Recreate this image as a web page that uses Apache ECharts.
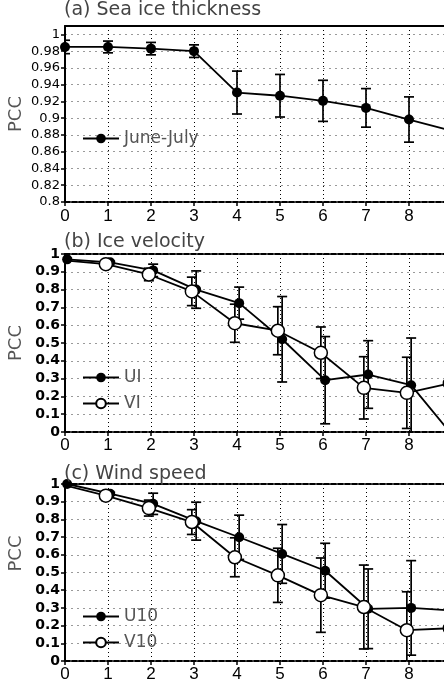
<!DOCTYPE html>
<html>
<head>
<meta charset="utf-8">
<script src="https://cdn.jsdelivr.net/npm/echarts@6/dist/echarts.min.js"></script>
<style>
html,body{margin:0;padding:0;overflow:hidden;background:#fff;}
#chart{width:480px;height:680px;}
</style>
</head>
<body>
<div id="chart"></div>
<script>
// lead (x axis)
var leads = [0, 1, 2, 3, 4, 5, 6, 7, 8, 9];
var xTicks = ['0', '1', '2', '3', '4', '5', '6', '7', '8', '9'];
// (a) sea ice thickness
var thick    = [0.985, 0.985, 0.983, 0.980, 0.9306, 0.9268, 0.9207, 0.9123, 0.8984, 0.885];
var thickErr = [0.008, 0.007, 0.0074, 0.0075, 0.0256, 0.0254, 0.0245, 0.023, 0.027, null];
// (b) ice velocity
var ui    = [0.970, 0.953, 0.908, 0.800, 0.724, 0.521, 0.291, 0.323, 0.263, -0.03];
var uiErr = [0.006, 0.006, 0.035, 0.105, 0.09, 0.24, 0.245, 0.19, 0.265, null];
var vi    = [0.965, 0.943, 0.885, 0.790, 0.611, 0.569, 0.445, 0.248, 0.220, 0.273];
var viErr = [0.006, 0.006, 0.035, 0.08, 0.107, 0.135, 0.145, 0.175, 0.2, null];
// (c) wind speed
var u10    = [1.0, 0.945, 0.888, 0.790, 0.699, 0.605, 0.510, 0.295, 0.300, 0.284];
var u10Err = [0.003, 0.008, 0.06, 0.107, 0.125, 0.166, 0.155, 0.225, 0.267, null];
var v10    = [0.995, 0.934, 0.864, 0.785, 0.586, 0.484, 0.372, 0.305, 0.174, 0.185];
var v10Err = [0.003, 0.008, 0.045, 0.07, 0.11, 0.153, 0.21, 0.237, 0.217, null];

var FONT = 'DejaVu Sans';

function pts(vals, shift){
    return vals.map(function (v, i){ return [leads[i] + shift, v]; });
}
function bars(vals, errs, shift){
    var out = [];
    for(var i = 0; i < vals.length; i++){
        if(errs[i] == null) continue;
        out.push([leads[i] + shift, vals[i] - errs[i], vals[i] + errs[i]]);
    }
    return out;
}
//误差棒
function renderBar(params, api){
    var hi = api.coord([api.value(0), api.value(2)]);
    var lo = api.coord([api.value(0), api.value(1)]);
    var w = 5;
    var st = {stroke: '#000', lineWidth: 1.7};
    return {type: 'group', children: [
        {type: 'line', shape: {x1: hi[0], y1: hi[1], x2: lo[0], y2: lo[1]}, style: st},
        {type: 'line', shape: {x1: hi[0] - w, y1: hi[1], x2: hi[0] + w, y2: hi[1]}, style: st},
        {type: 'line', shape: {x1: lo[0] - w, y1: lo[1], x2: lo[0] + w, y2: lo[1]}, style: st}
    ]};
}

var grids = [
    {left: 65, width: 387, top: 26, height: 176, outerBoundsMode: 'none'},
    {left: 65, width: 387, top: 254, height: 178, outerBoundsMode: 'none'},
    {left: 65, width: 387, top: 484, height: 177, outerBoundsMode: 'none'}
];

function bottomAxis(i, lblMargin){
    return {
        type: 'value', gridIndex: i, min: 0, max: 9, interval: 1, position: 'bottom',
        axisLine: {show: true, onZero: false, lineStyle: {color: '#000', width: 2, type: [5, 2]}},
        axisTick: {show: true, length: 4, lineStyle: {color: '#000', width: 1.5}},
        axisLabel: {margin: lblMargin, color: '#000', fontSize: 17, fontFamily: 'Liberation Sans',
            formatter: function (v){ return xTicks[Math.round(v)]; }},
        splitLine: {show: true, lineStyle: {color: '#000', width: 1, type: [1, 3]}}
    };
}
function topAxis(i, dashed){
    return {
        type: 'value', gridIndex: i, min: 0, max: 9, position: 'top',
        axisLine: {show: true, onZero: false, lineStyle: {color: '#000', width: 2, type: dashed ? [5, 2] : 'solid'}},
        axisTick: {show: false}, axisLabel: {show: false}, splitLine: {show: false}
    };
}
function leftAxis(i, min, max, step, digits, fs, bold, namePad){
    return {
        type: 'value', gridIndex: i, min: min, max: max, interval: step,
        name: 'PCC', nameLocation: 'middle', nameGap: 40, nameMoveOverlap: false,
        nameTextStyle: {color: '#555', fontSize: 18, fontFamily: FONT, padding: namePad},
        axisLine: {show: true, onZero: false, lineStyle: {color: '#000', width: 2}},
        axisTick: {show: true, length: 4, lineStyle: {color: '#000', width: 1.5}},
        axisLabel: {margin: 5, color: '#000', fontSize: fs, fontFamily: FONT, fontWeight: bold ? 'bold' : 'normal',
            showMaxLabel: max === 1,
            formatter: function (v){ return String(+v.toFixed(digits)); }},
        splitLine: {show: true, lineStyle: {color: '#9a9a9a', width: 1, type: [2, 4]}}
    };
}

function lineSeries(name, vals, shift, gi, open){
    return {
        name: name, type: 'line', xAxisIndex: gi * 2, yAxisIndex: gi, z: 3,
        data: pts(vals, shift), symbol: 'circle', symbolSize: open ? 13 : 10, showSymbol: true,
        lineStyle: {color: '#000', width: 1.8},
        itemStyle: open ? {color: '#fff', borderColor: '#000', borderWidth: 1.5} : {color: '#000'}
    };
}
function barSeries(vals, errs, shift, gi){
    return {
        name: 'err', type: 'custom', xAxisIndex: gi * 2, yAxisIndex: gi, z: 2, clip: true,
        data: bars(vals, errs, shift), encode: {x: 0, y: [1, 2]},
        renderItem: renderBar
    };
}

function legendAt(names, top){
    return {
        data: names, orient: 'vertical', left: 82, top: top,
        itemWidth: 36, itemHeight: 12, itemGap: 9, padding: 0,
        textStyle: {color: '#555', fontSize: 17, fontFamily: FONT}
    };
}

var titleStyle = {color: '#444', fontSize: 19, fontWeight: 'normal', fontFamily: FONT};

var myChart = echarts.init(document.getElementById('chart'));
var option = {
    animation: false,
    backgroundColor: '#fff',
    title: [
        {text: '(a) Sea ice thickness', left: 64, top: 1, padding: 0, textStyle: titleStyle},
        {text: '(b) Ice velocity', left: 64, top: 233, padding: 0, textStyle: titleStyle},
        {text: '(c) Wind speed', left: 64, top: 465, padding: 0, textStyle: titleStyle}
    ],
    legend: [
        legendAt(['June-July'], 130),
        legendAt(['UI', 'VI'], 369),
        legendAt(['U10', 'V10'], 608)
    ],
    grid: grids,
    xAxis: [bottomAxis(0, 6), topAxis(0, false), bottomAxis(1, 5), topAxis(1, true), bottomAxis(2, 5), topAxis(2, true)],
    yAxis: [
        leftAxis(0, 0.8, 1.01, 0.02, 2, 13, false, 0),
        leftAxis(1, 0, 1, 0.1, 1, 14, true, 0),
        leftAxis(2, 0, 1, 0.1, 1, 14, true, [0, 0, 0, 38])
    ],
    series: [
        barSeries(thick, thickErr, 0, 0),
        lineSeries('June-July', thick, 0, 0, false),
        barSeries(ui, uiErr, 0.05, 1),
        barSeries(vi, viErr, -0.05, 1),
        lineSeries('UI', ui, 0.05, 1, false),
        lineSeries('VI', vi, -0.05, 1, true),
        barSeries(u10, u10Err, 0.05, 2),
        barSeries(v10, v10Err, -0.05, 2),
        lineSeries('U10', u10, 0.05, 2, false),
        lineSeries('V10', v10, -0.05, 2, true)
    ]
};
myChart.setOption(option);
</script>
</body>
</html>
